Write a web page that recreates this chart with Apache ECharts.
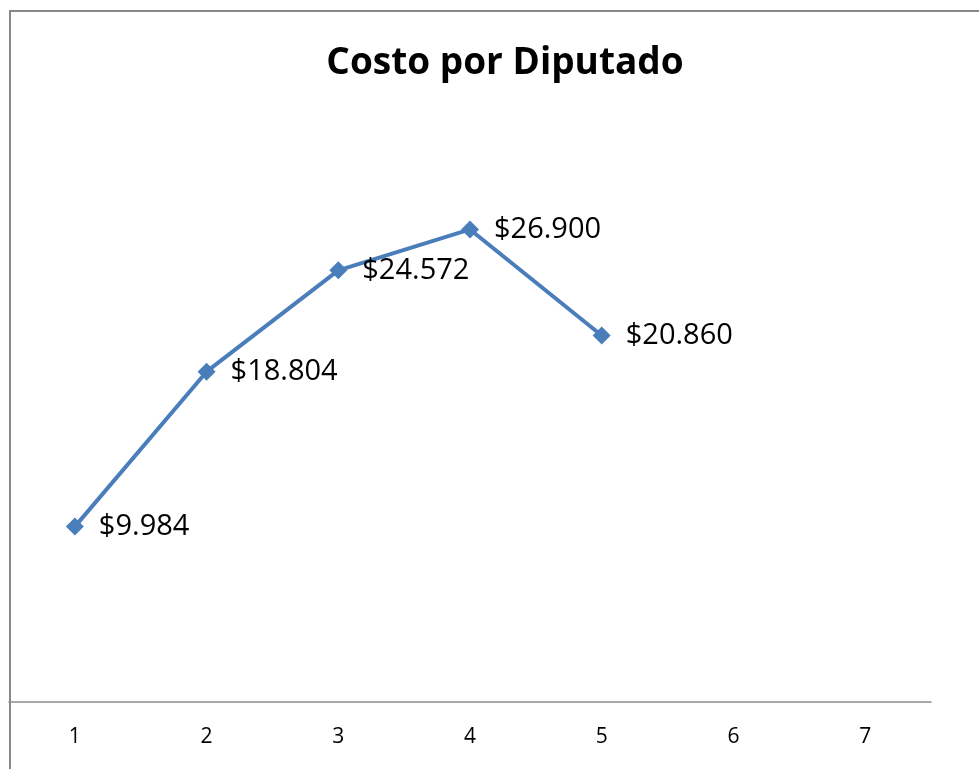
<!DOCTYPE html>
<html>
<head>
<meta charset="utf-8">
<script src="https://cdn.jsdelivr.net/npm/echarts@6/dist/echarts.min.js"></script>
<style>
  html, body { margin: 0; padding: 0; background: #fff; }
  #container { width: 979px; height: 769px; }
</style>
</head>
<body>
<div id="container"></div>
<script>
const categorias = ["1", "2", "3", "4", "5", "6", "7"];
const costos = [9984, 18804, 24572, 26900, 20860, null, null];

const myChart = echarts.init(document.getElementById("container"), null, {
  renderer: "canvas",
});

function formatoPeso(v) {
  // separador de miles con punto
  return "$" + String(v).replace(/\B(?=(\d{3})+(?!\d))/g, ".");
}

const option = {
  animation: false,
  title: {
    text: "Costo por Diputado",
    left: 500,
    top: 40,
    textAlign: "center",
    textStyle: {
      fontFamily: "Open Sans",
      fontWeight: "bold",
      fontSize: 37,
      color: "#000",
    },
  },
  graphic: [
    {
      type: "polyline",
      shape: { points: [[10, 769], [10, 11], [979, 11]] },
      style: { stroke: "#888", lineWidth: 2, fill: null },
    },
  ],
  grid: { left: 9, right: 48, top: 175, bottom: 67 },
  xAxis: {
    type: "category",
    data: categorias,
    boundaryGap: true,
    axisLine: { lineStyle: { color: "#8c8c8c", width: 1.5 } },
    axisTick: { show: false },
    axisLabel: {
      margin: 25,
      fontFamily: "Open Sans",
      fontSize: 21,
      color: "#000",
    },
  },
  yAxis: {
    type: "value",
    min: 0,
    max: 30000,
    show: false,
    splitLine: { show: false },
  },
  series: [
    {
      type: "line",
      data: costos,
      symbol: "diamond",
      symbolSize: 18,
      itemStyle: { color: "#4a7ebb" },
      lineStyle: { color: "#4a7ebb", width: 4 },
      label: {
        show: true,
        position: "right",
        distance: 15,
        fontFamily: "Open Sans",
        fontSize: 29,
        color: "#000",
        formatter: (p) => formatoPeso(p.value),
      },
    },
  ],
};

myChart.setOption(option);
window.addEventListener("resize", myChart.resize);
</script>
</body>
</html>
